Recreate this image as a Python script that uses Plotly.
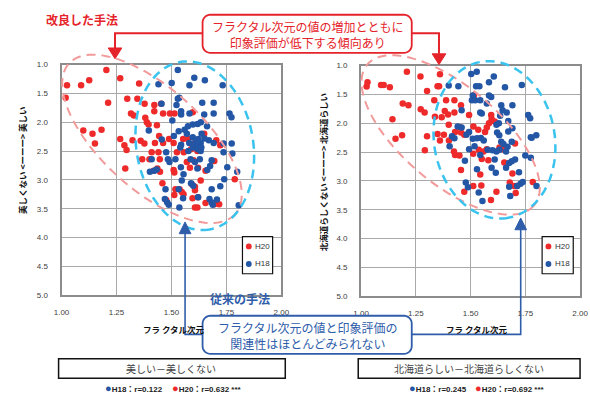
import numpy as np
import plotly.graph_objects as go

W, H = 590, 397

# ---------------- data: fractal dimension (x) vs. impression score (y) ----------------
# Panel 1: 美しい－美しくない
beauty_h20_x = [1.204, 1.025, 1.089, 1.126, 1.267, 1.353, 1.019, 1.212, 1.299, 1.345, 1.378, 1.422,
                1.453, 1.316, 1.329, 1.381, 1.422, 1.462, 1.493, 1.514, 1.597, 1.388, 1.396, 1.434,
                1.099, 1.141, 1.182, 1.267, 1.323, 1.360, 1.444, 1.489, 1.553, 1.649, 1.575, 1.704,
                1.377, 1.425, 1.462, 1.510, 1.607, 1.152, 1.286, 1.296, 1.410, 1.441, 1.525, 1.556,
                1.589, 1.618, 1.722, 1.367, 1.400, 1.447, 1.570, 1.600, 1.695, 1.290, 1.419, 1.436,
                1.448, 1.510, 1.513, 1.584, 1.621, 1.655, 1.788, 1.459, 1.518, 1.537, 1.547, 1.592,
                1.607, 1.607, 1.633, 1.476, 1.513, 1.555, 1.596, 1.621, 1.655, 1.607, 1.618, 1.695,
                1.717]
beauty_h20_y = [1.093, 1.360, 1.360, 1.273, 1.238, 1.330, 1.576, 1.663, 1.593, 1.593, 1.680, 1.700,
                1.680, 1.849, 1.884, 1.924, 1.808, 1.849, 1.849, 1.849, 1.826, 2.000, 2.040, 2.050,
                2.145, 2.200, 2.130, 2.290, 2.310, 2.320, 2.240, 2.290, 2.290, 2.200, 2.290, 2.310,
                2.370, 2.360, 2.360, 2.360, 2.360, 2.370, 2.400, 2.480, 2.520, 2.520, 2.520, 2.520,
                2.470, 2.500, 2.400, 2.640, 2.640, 2.640, 2.690, 2.660, 2.670, 2.800, 2.840, 2.800,
                2.860, 2.830, 2.870, 2.790, 2.790, 2.840, 2.990, 3.060, 3.160, 3.160, 3.210, 3.070,
                3.120, 3.180, 3.010, 3.350, 3.260, 3.250, 3.320, 3.300, 3.400, 3.480, 3.480, 3.420,
                3.420]
beauty_h18_x = [1.529, 1.441, 1.501, 1.604, 1.652, 1.582, 1.733, 1.529, 1.536, 1.640, 1.692, 1.455,
                1.523, 1.544, 1.544, 1.582, 1.649, 1.692, 1.764, 1.773, 1.504, 1.597, 1.619, 1.634,
                1.662, 1.575, 1.397, 1.533, 1.560, 1.570, 1.637, 1.597, 1.456, 1.511, 1.622, 1.670,
                1.544, 1.581, 1.633, 1.692, 1.737, 1.774, 1.540, 1.599, 1.617, 1.476, 1.577, 1.633,
                1.737, 1.777, 1.410, 1.484, 1.491, 1.518, 1.587, 1.607, 1.629, 1.683, 1.402, 1.422,
                1.433, 1.543, 1.555, 1.618, 1.663, 1.676, 1.754, 1.799, 1.740, 1.547, 1.473, 1.533,
                1.589, 1.599, 1.683, 1.722, 1.470, 1.481, 1.488, 1.553, 1.621, 1.673, 1.683, 1.707,
                1.688, 1.536, 1.806, 1.607, 1.636, 1.620, 1.610, 1.650]
beauty_h18_y = [1.093, 1.343, 1.320, 1.227, 1.273, 1.360, 1.360, 1.593, 1.576, 1.663, 1.663, 1.680,
                1.700, 1.808, 1.866, 1.849, 1.866, 1.849, 1.849, 1.913, 1.971, 2.040, 2.030, 2.000,
                2.070, 2.070, 2.145, 2.157, 2.128, 2.200, 2.200, 2.260, 2.300, 2.240, 2.290, 2.310,
                2.390, 2.360, 2.360, 2.360, 2.370, 2.370, 2.440, 2.440, 2.410, 2.520, 2.500, 2.500,
                2.520, 2.540, 2.640, 2.640, 2.690, 2.640, 2.640, 2.690, 2.640, 2.660, 2.860, 2.840,
                2.820, 2.780, 2.900, 2.800, 2.830, 2.760, 2.780, 2.860, 2.990, 3.010, 3.160, 3.160,
                3.060, 3.100, 3.160, 3.110, 3.330, 3.390, 3.430, 3.320, 3.300, 3.330, 3.390, 3.340,
                3.430, 3.480, 3.440, 2.390, 2.440, 2.470, 2.330, 2.280]

# Panel 2: 北海道らしい－北海道らしくない
hokkaido_h20_x = [1.209, 1.029, 1.025, 1.091, 1.103, 1.131, 1.271, 1.360, 1.349, 1.356, 1.301, 1.190,
                  1.216, 1.272, 1.290, 1.334, 1.388, 1.426, 1.456, 1.382, 1.397, 1.426, 1.368, 1.337,
                  1.493, 1.515, 1.143, 1.400, 1.451, 1.456, 1.471, 1.187, 1.157, 1.301, 1.378, 1.349,
                  1.513, 1.535, 1.566, 1.594, 1.596, 1.584, 1.610, 1.574, 1.429,
                  1.291, 1.360, 1.401, 1.424, 1.429, 1.449, 1.512, 1.537, 1.551, 1.559, 1.574, 1.581,
                  1.632, 1.647, 1.703, 1.654, 1.691, 1.456, 1.544, 1.679, 1.699, 1.709, 1.784, 1.471,
                  1.512, 1.549, 1.618, 1.593, 1.706]
hokkaido_h20_y = [1.108, 1.290, 1.364, 1.335, 1.335, 1.375, 1.188, 1.150, 1.358, 1.358, 1.443, 1.659,
                  1.688, 1.756, 1.813, 1.602, 1.602, 1.602, 1.688, 1.790, 1.847, 1.813, 1.898, 1.886,
                  1.858, 1.517, 1.932, 2.028, 2.068, 2.159, 2.199, 2.210, 2.267, 2.227, 2.199, 2.188,
                  2.057, 2.114, 2.153, 1.858, 1.926, 2.000, 1.972, 2.074, 2.153,
                  2.470, 2.300, 2.300, 2.490, 2.550, 2.560, 2.530, 2.460, 2.620, 2.490, 2.450, 2.640,
                  2.420, 2.450, 2.350, 2.680, 2.870, 2.810, 2.890, 3.030, 3.090, 3.090, 3.020, 3.190,
                  3.090, 3.080, 3.190, 3.330, 3.210]
hokkaido_h18_x = [1.503, 1.528, 1.606, 1.584, 1.400, 1.444, 1.525, 1.540, 1.657, 1.734, 1.510, 1.506,
                  1.521, 1.544, 1.584, 1.594, 1.574, 1.640, 1.691, 1.459, 1.544, 1.551, 1.646, 1.665,
                  1.635, 1.763, 1.772, 1.672, 1.629, 1.618, 1.441, 1.459, 1.493, 1.481, 1.510, 1.547,
                  1.621, 1.631, 1.672, 1.691, 1.775, 1.800, 1.415,
                  1.404, 1.493, 1.518, 1.544, 1.578, 1.600, 1.618, 1.610, 1.632, 1.662, 1.669, 1.688,
                  1.474, 1.529, 1.596, 1.615, 1.662, 1.676, 1.688, 1.703, 1.721, 1.750, 1.775, 1.478,
                  1.488, 1.537, 1.554, 1.676, 1.681, 1.713, 1.728, 1.738, 1.801,
                  1.426, 1.529, 1.640, 1.779, 1.560, 1.650]
hokkaido_h18_y = [1.148, 1.108, 1.188, 1.290, 1.347, 1.358, 1.358, 1.358, 1.375, 1.335, 1.517, 1.602,
                  1.602, 1.602, 1.517, 1.545, 1.659, 1.688, 1.688, 1.773, 1.813, 1.830, 1.773, 1.813,
                  1.869, 1.858, 1.915, 1.960, 2.000, 2.028, 2.057, 2.074, 2.153, 2.199, 2.267, 2.256,
                  2.159, 2.210, 2.142, 2.085, 2.244, 2.210, 2.227,
                  2.400, 2.450, 2.400, 2.550, 2.460, 2.470, 2.490, 2.630, 2.460, 2.490, 2.410, 2.320,
                  2.650, 2.800, 2.770, 2.860, 2.770, 2.690, 2.660, 2.630, 2.850, 2.560, 2.600, 3.030,
                  3.110, 3.200, 3.350, 3.100, 3.260, 3.090, 3.050, 3.020, 3.090,
                  2.260, 2.260, 2.320, 2.250, 2.300, 2.360]

x_ticks = [1.00, 1.25, 1.50, 1.75, 2.00]
y_ticks = [1.0, 1.5, 2.0, 2.5, 3.0, 3.5, 4.0, 4.5, 5.0]
series_names = ["H20", "H18"]
panel_titles = ["美しい－美しくない", "北海道らしい－北海道らしくない"]
y_titles = ["美しくない <ーーー> 美しい", "北海道らしくない <ーーー> 北海道らしい"]
x_title = "フラ クタル次元"
corr_h18 = ["H18：r=0.122", "H18：r=0.245"]
corr_h20 = ["H20：r=0.632 ***", "H20：r=0.692 ***"]

# ---------------- styling ----------------
RED = "#EE2A2B"
BLUE = "#2456A6"
PINK = "#F29A9A"
CYAN = "#3AC3EE"
ANN_RED = "#E5232A"
ANN_BLUE = "#2F5DAA"
FONT = "Liberation Sans, Noto Sans CJK JP, sans-serif"
JFONT = "Noto Sans CJK JP, sans-serif"


def fx(px):
    return px / W


def fy(py):
    return 1 - py / H


def path_from_px(points, close=False):
    s = "M " + " L ".join(f"{fx(x):.5f},{fy(y):.5f}" for x, y in points)
    return s + (" Z" if close else "")


def ellipse_px(cx, cy, a, b, ang_deg, n=160):
    th = np.radians(ang_deg)
    t = np.linspace(0, 2 * np.pi, n)
    xs = cx + a * np.cos(t) * np.cos(th) - b * np.sin(t) * np.sin(th)
    ys = cy + a * np.cos(t) * np.sin(th) + b * np.sin(t) * np.cos(th)
    return list(zip(xs, ys))


def rounded_rect_px(x0, y0, x1, y1, r, n=8):
    pts = []
    corners = [(x1 - r, y0 + r, -90), (x1 - r, y1 - r, 0), (x0 + r, y1 - r, 90), (x0 + r, y0 + r, 180)]
    for cx, cy, start in corners:
        for k in range(n + 1):
            ang = np.radians(start + 90 * k / n)
            pts.append((cx + r * np.cos(ang), cy + r * np.sin(ang)))
    return pts


fig = go.Figure()

panels = [
    ("x", "y", beauty_h20_x, beauty_h20_y, beauty_h18_x, beauty_h18_y),
    ("x2", "y2", hokkaido_h20_x, hokkaido_h20_y, hokkaido_h18_x, hokkaido_h18_y),
]
for xa, ya, rx, ry, bx, by in panels:
    fig.add_trace(go.Scatter(x=rx, y=ry, mode="markers", name=series_names[0], xaxis=xa, yaxis=ya,
                             marker=dict(color=RED, size=6.5, line=dict(width=0)), showlegend=False))
    fig.add_trace(go.Scatter(x=bx, y=by, mode="markers", name=series_names[1], xaxis=xa, yaxis=ya,
                             marker=dict(color=BLUE, size=6.5, line=dict(width=0)), showlegend=False))

common_x = dict(range=[1, 2], tickvals=x_ticks, tickformat=".2f", showgrid=True, gridcolor="#A9A9A9",
                gridwidth=1, showline=True, mirror=True, linecolor="#8C8C8C", linewidth=2,
                zeroline=False, ticks="", ticklabelstandoff=8, tickfont=dict(family=FONT, size=8, color="#404040"))
common_y = dict(range=[5, 1], tickvals=y_ticks, tickformat=".1f", showgrid=True, gridcolor="#A9A9A9",
                gridwidth=1, showline=True, mirror=True, linecolor="#8C8C8C", linewidth=2,
                zeroline=False, ticks="", ticklabelstandoff=10, tickfont=dict(family=FONT, size=8, color="#404040"))

fig.update_layout(
    width=W, height=H, margin=dict(l=0, r=0, t=0, b=0),
    paper_bgcolor="white", plot_bgcolor="white", showlegend=False,
    xaxis=dict(domain=[fx(55), fx(281)], anchor="y", **common_x),
    yaxis=dict(domain=[fy(298), fy(62)], anchor="x", **common_y),
    xaxis2=dict(domain=[fx(363), fx(588)], anchor="y2", **common_x),
    yaxis2=dict(domain=[fy(299), fy(63)], anchor="x2", **common_y),
)

shapes = []
annotations = []

# dashed trend ellipses (pixel-space geometry)
ellipses = [
    (PINK, 2, (148, 138, 115, 52, 42)),
    (CYAN, 2.5, (192, 145, 87, 60, 80)),
    (PINK, 2, (455, 134, 112, 50, 40)),
    (CYAN, 2.5, (500, 139, 81, 62, 80)),
]
for col, lw, prm in ellipses:
    shapes.append(dict(type="path", xref="paper", yref="paper", path=path_from_px(ellipse_px(*prm), True),
                       line=dict(color=col, width=lw, dash="9px,6px"), fillcolor="rgba(0,0,0,0)", layer="above"))

# in-plot legends
for lx0, lx1 in [(241, 272), (549, 581)]:
    shapes.append(dict(type="rect", xref="paper", yref="paper", x0=fx(lx0), x1=fx(lx1), y0=fy(276), y1=fy(238),
                       line=dict(color="#111111", width=1.2), fillcolor="white", layer="above"))
    for cy, col, name in [(248, RED, series_names[0]), (266, BLUE, series_names[1])]:
        shapes.append(dict(type="circle", xref="paper", yref="paper", x0=fx(lx0 + 3.5), x1=fx(lx0 + 9.5),
                           y0=fy(cy + 3), y1=fy(cy - 3), line=dict(width=0), fillcolor=col, layer="above"))
        annotations.append(dict(text=name, xref="paper", yref="paper", x=fx(lx0 + 11), y=fy(cy),
                                xanchor="left", yanchor="middle", showarrow=False,
                                font=dict(family=FONT, size=8, color="#333333")))

# axis titles
for xc, yc, txt in [(15, 160, y_titles[0]), (324, 172, y_titles[1])]:
    annotations.append(dict(text=f"<b>{txt}</b>", xref="paper", yref="paper", x=fx(xc), y=fy(yc),
                            textangle=-90, showarrow=False, xanchor="center", yanchor="middle",
                            font=dict(family=JFONT, size=8.5, color="#111111")))
for xc in [171, 482]:
    annotations.append(dict(text=f"<b>{x_title}</b>", xref="paper", yref="paper", x=fx(xc), y=fy(333),
                            showarrow=False, xanchor="center", yanchor="middle",
                            font=dict(family=JFONT, size=8.5, color="#111111")))

# red call-out: connector, arrowheads, box
shapes.append(dict(type="path", xref="paper", yref="paper", path=path_from_px([(200, 30), (110, 30), (110, 46)]),
                   line=dict(color=ANN_RED, width=2), layer="above"))
shapes.append(dict(type="path", xref="paper", yref="paper", path=path_from_px([(415, 30), (443, 30), (443, 51)]),
                   line=dict(color=ANN_RED, width=2), layer="above"))
for tx, ty in [(110, 56), (443, 62)]:
    shapes.append(dict(type="path", xref="paper", yref="paper",
                       path=path_from_px([(tx - 7, ty - 11), (tx + 7, ty - 11), (tx, ty)], True),
                       line=dict(color=ANN_RED, width=1), fillcolor=ANN_RED, layer="above"))
shapes.append(dict(type="path", xref="paper", yref="paper", path=path_from_px(rounded_rect_px(200, 11, 415, 50, 8), True),
                   line=dict(color=ANN_RED, width=1.8), fillcolor="white", layer="above"))
annotations.append(dict(text="フラクタル次元の値の増加とともに<br>印象評価が低下する傾向あり", xref="paper", yref="paper",
                        x=fx(308), y=fy(31), showarrow=False, xanchor="center", yanchor="middle",
                        font=dict(family=JFONT, size=12, color=ANN_RED)))
annotations.append(dict(text="<b>改良した手法</b>", xref="paper", yref="paper", x=fx(76), y=fy(16),
                        showarrow=False, xanchor="center", yanchor="middle",
                        font=dict(family=JFONT, size=12, color=ANN_RED)))

# blue call-out: connector, arrowheads, box
shapes.append(dict(type="path", xref="paper", yref="paper",
                   path=path_from_px([(182, 234), (182, 338), (527, 338), (527, 230)]),
                   line=dict(color=ANN_BLUE, width=1.6), layer="above"))
for tx, ty in [(182, 223), (527, 219)]:
    shapes.append(dict(type="path", xref="paper", yref="paper",
                       path=path_from_px([(tx - 6, ty + 12), (tx + 6, ty + 12), (tx, ty)], True),
                       line=dict(color=ANN_BLUE, width=1), fillcolor=ANN_BLUE, layer="above"))
shapes.append(dict(type="path", xref="paper", yref="paper", path=path_from_px(rounded_rect_px(200, 319, 415, 358, 8), True),
                   line=dict(color=ANN_BLUE, width=1.8), fillcolor="white", layer="above"))
annotations.append(dict(text="フラクタル次元の値と印象評価の<br>関連性はほとんどみられない", xref="paper", yref="paper",
                        x=fx(308), y=fy(339), showarrow=False, xanchor="center", yanchor="middle",
                        font=dict(family=JFONT, size=12, color=ANN_BLUE)))
annotations.append(dict(text="<b>従来の手法</b>", xref="paper", yref="paper", x=fx(238), y=fy(301),
                        showarrow=False, xanchor="center", yanchor="middle",
                        font=dict(family=JFONT, size=12, color=ANN_BLUE)))

# panel captions and correlation notes
for (bx0, bx1), title, xt, h18, h20, x18, x20 in [
    ((52, 285), panel_titles[0], 168, corr_h18[0], corr_h20[0], 98, 167),
    ((360, 588), panel_titles[1], 474, corr_h18[1], corr_h20[1], 410, 478),
]:
    shapes.append(dict(type="rect", xref="paper", yref="paper", x0=fx(bx0), x1=fx(bx1), y0=fy(383), y1=fy(363),
                       line=dict(color="#111111", width=1.5), fillcolor="white", layer="above"))
    annotations.append(dict(text=title, xref="paper", yref="paper", x=fx(xt), y=fy(373),
                            showarrow=False, xanchor="center", yanchor="middle",
                            font=dict(family=JFONT, size=10, color="#444444")))
    annotations.append(dict(text=f'<span style="color:{BLUE};font-size:11px">●</span><b>{h18}</b>',
                            xref="paper", yref="paper", x=fx(x18), y=fy(393), showarrow=False,
                            xanchor="left", yanchor="middle", font=dict(family=FONT, size=8, color="#222222")))
    annotations.append(dict(text=f'<span style="color:{RED};font-size:11px">●</span><b>{h20}</b>',
                            xref="paper", yref="paper", x=fx(x20), y=fy(393), showarrow=False,
                            xanchor="left", yanchor="middle", font=dict(family=FONT, size=8, color="#222222")))

fig.update_layout(shapes=shapes, annotations=annotations)
fig.write_html("out.html")
